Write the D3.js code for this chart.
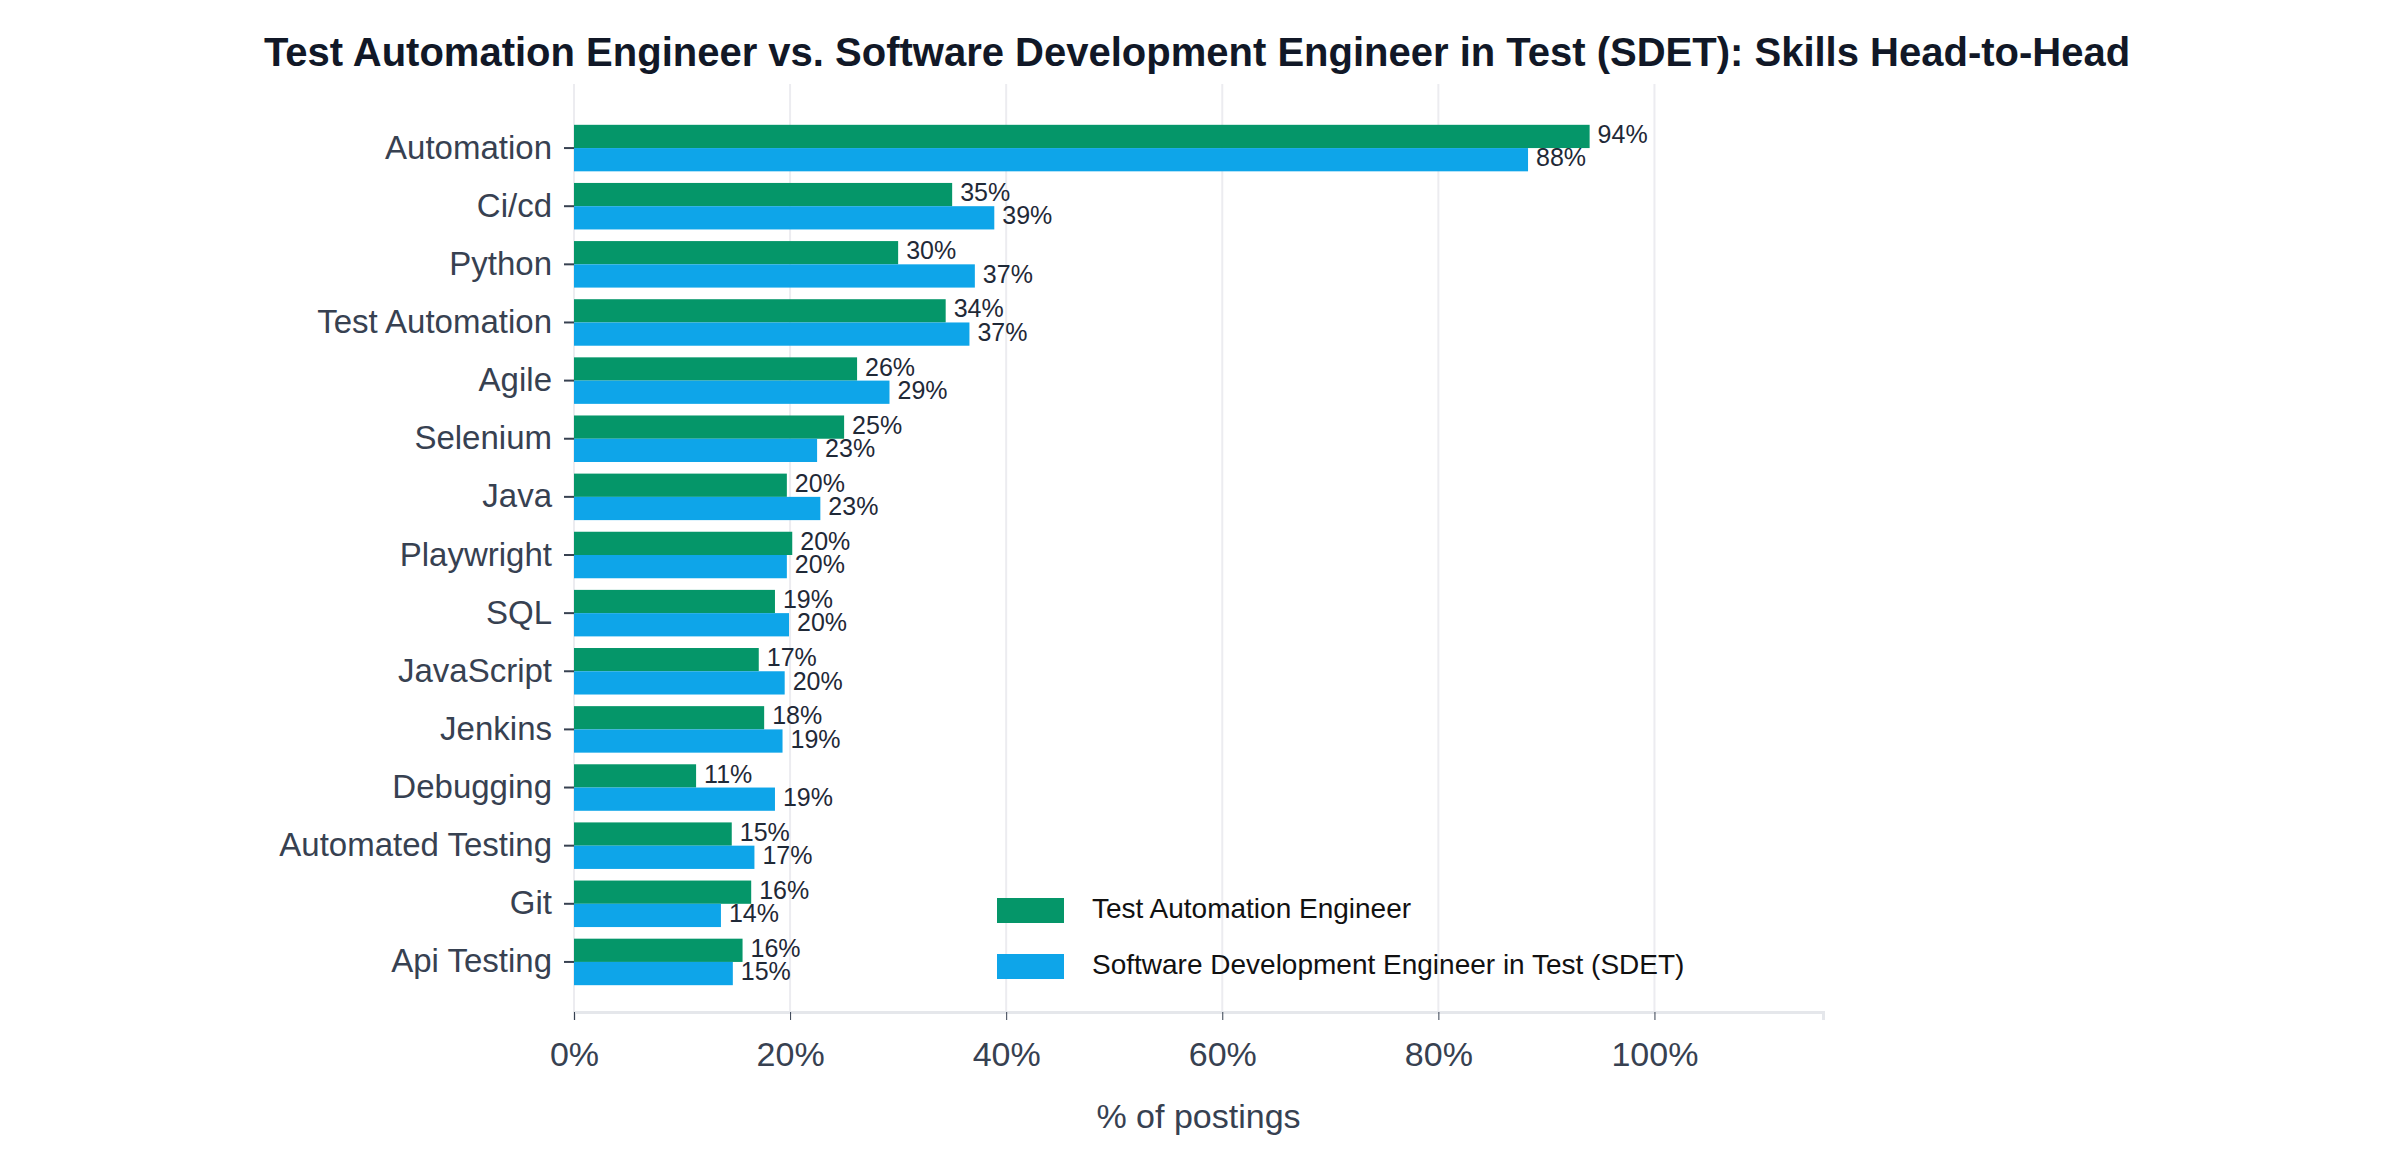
<!DOCTYPE html>
<html><head><meta charset="utf-8">
<script src="https://cdn.jsdelivr.net/npm/d3@7"></script>
<style>
body{margin:0;background:#fff;font-family:"Liberation Sans",Arial,sans-serif;}
</style></head>
<body><svg id="chart" width="2385" height="1150"></svg>
<script>
const skills = ["Automation","Ci/cd","Python","Test Automation","Agile","Selenium","Java","Playwright","SQL","JavaScript","Jenkins","Debugging","Automated Testing","Git","Api Testing"];
const taeValues = [94.0,35.0,30.0,34.4,26.2,25.0,19.7,20.2,18.6,17.1,17.6,11.3,14.6,16.4,15.6];
const sdetValues = [88.3,38.9,37.1,36.6,29.2,22.5,22.8,19.7,19.9,19.5,19.3,18.6,16.7,13.6,14.7];
const seriesNames = ["Test Automation Engineer","Software Development Engineer in Test (SDET)"];
const seriesColors = ["#059669","#0ea5e9"];
const xTicks = [0,20,40,60,80,100];

const svg = d3.select("#chart");
const plotLeft = 574, plotRight = 1823, plotTop = 84, plotBottom = 1012;

const x = d3.scaleLinear().domain([0,115.6]).range([plotLeft,plotRight]);
const y = d3.scaleBand().domain(skills).range([119,991]).paddingInner(0.2).paddingOuter(0.1);
const sub = d3.scaleBand().domain([0,1]).range([0,y.bandwidth()]);

// grid
svg.append("g").selectAll("line").data(xTicks).join("line")
  .attr("x1",d=>x(d)).attr("x2",d=>x(d)).attr("y1",plotTop).attr("y2",plotBottom)
  .attr("stroke","#ececf0").attr("stroke-width",2);

// bottom axis
const xAxis = svg.append("g").attr("transform",`translate(0,${plotBottom})`)
  .call(d3.axisBottom(x).tickValues(xTicks).tickFormat(d=>d+"%").tickSize(8).tickPadding(22));
xAxis.select(".domain").attr("stroke","#e5e7eb").attr("stroke-width",3);
xAxis.selectAll(".tick line").attr("stroke","#374151");
xAxis.selectAll("text").attr("font-size",34).attr("fill","#374151").attr("font-family","Liberation Sans, Arial");

// left axis
const yAxis = svg.append("g").attr("transform",`translate(${plotLeft},0)`)
  .call(d3.axisLeft(y).tickSize(10).tickPadding(12));
yAxis.select(".domain").remove();
yAxis.selectAll(".tick line").attr("stroke","#374151").attr("stroke-width",2);
yAxis.selectAll("text").attr("font-size",33).attr("fill","#374151").attr("font-family","Liberation Sans, Arial");

const rows = skills.map((s,i)=>({s, vals:[taeValues[i],sdetValues[i]]}));
const g = svg.append("g");
[0,1].forEach(k=>{
  g.selectAll(".b"+k).data(rows).join("rect").attr("class","b"+k)
    .attr("x",x(0)).attr("y",d=>y(d.s)+sub(k))
    .attr("width",d=>x(d.vals[k])-x(0)).attr("height",sub.bandwidth())
    .attr("fill",seriesColors[k]);
  g.selectAll(".l"+k).data(rows).join("text").attr("class","l"+k)
    .attr("x",d=>x(d.vals[k])+8).attr("y",d=>y(d.s)+sub(k)+sub.bandwidth()/2)
    .attr("dominant-baseline","middle").attr("font-size",25).attr("fill","#1f2937")
    .text(d=>Math.round(d.vals[k])+"%");
});

// title
svg.append("text").attr("x",1197).attr("y",66).attr("text-anchor","middle")
  .attr("font-size",40).attr("font-weight","bold").attr("fill","#111827")
  .text("Test Automation Engineer vs. Software Development Engineer in Test (SDET): Skills Head-to-Head");

svg.append("text").attr("x",(plotLeft+plotRight)/2).attr("y",1128).attr("text-anchor","middle")
  .attr("font-size",34).attr("fill","#374151").text("% of postings");

// legend
const lg = svg.append("g").selectAll("g").data(seriesNames).join("g")
  .attr("transform",(d,i)=>`translate(997,${898+i*56})`);
lg.append("rect").attr("width",67).attr("height",25).attr("fill",(d,i)=>seriesColors[i]);
lg.append("text").attr("x",95).attr("y",13).attr("dominant-baseline","middle")
  .attr("font-size",28).attr("fill","#111").text(d=>d);
</script></body></html>
